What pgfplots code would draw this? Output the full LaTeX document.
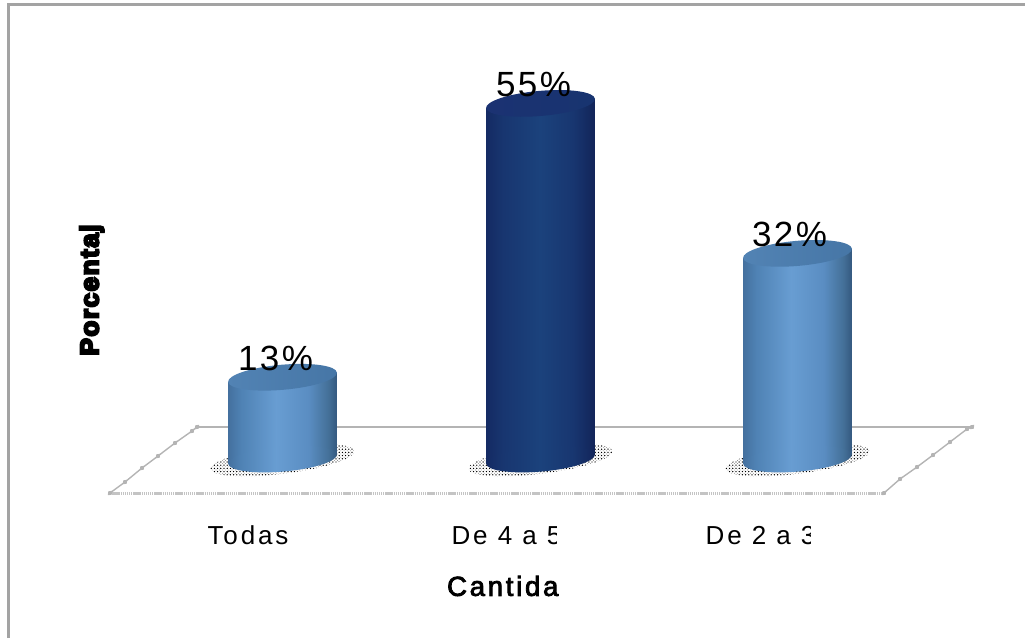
\documentclass[border=0pt]{standalone}
\usepackage{fontspec}
\setmainfont{Liberation Sans}
\newfontfamily\valuefont[LetterSpace=7]{Liberation Sans}
\newfontfamily\tickfont[LetterSpace=11]{Liberation Sans}
\newfontfamily\xlabfont[LetterSpace=10,FakeBold=3]{Liberation Sans}
\newfontfamily\ylabfont[LetterSpace=6,FakeBold=8]{Liberation Sans Bold}
\usepackage{pgfplots}
\pgfplotsset{compat=1.18}
\usetikzlibrary{patterns}

\definecolor{frameline}{HTML}{A3A3A3}
\definecolor{floorline}{HTML}{B4B4B4}
\definecolor{floorfront}{HTML}{C4C4C4}

% Side-wall colours
\definecolor{lA}{HTML}{44709E}
\definecolor{lB}{HTML}{4F82B4}
\definecolor{lC}{HTML}{689DD2}
\definecolor{lD}{HTML}{5A8DC2}
\definecolor{lE}{HTML}{447098}
\definecolor{lF}{HTML}{34587F}
\definecolor{dA}{HTML}{142A63}
\definecolor{dB}{HTML}{183670}
\definecolor{dC}{HTML}{1B427C}
\definecolor{dD}{HTML}{122459}
\definecolor{lcapL}{HTML}{5283B4}
\definecolor{lcapR}{HTML}{4676A6}
\definecolor{dcapL}{HTML}{1B3272}
\definecolor{dcapR}{HTML}{183470}

% Cylinder side shadings (edge - highlight - edge)
\pgfdeclarehorizontalshading{lightbody}{100bp}{
  color(0bp)=(lA); color(25bp)=(lA); color(31bp)=(lB); color(47bp)=(lC);
  color(62bp)=(lD); color(71bp)=(lE); color(75bp)=(lF); color(100bp)=(lF)}
\pgfdeclarehorizontalshading{darkbody}{100bp}{
  color(0bp)=(dA); color(25bp)=(dA); color(33bp)=(dB); color(50bp)=(dC);
  color(65bp)=(dB); color(75bp)=(dD); color(100bp)=(dD)}
\pgfdeclarehorizontalshading{lightcap}{100bp}{
  color(0bp)=(lcapL); color(25bp)=(lcapL); color(75bp)=(lcapR); color(100bp)=(lcapR)}
\pgfdeclarehorizontalshading{darkcap}{100bp}{
  color(0bp)=(dcapL); color(25bp)=(dcapL); color(75bp)=(dcapR); color(100bp)=(dcapR)}

% Contact-shadow speckle
\pgfdeclarepatternformonly{speckles}{\pgfqpoint{-1pt}{-1pt}}{\pgfqpoint{2.5pt}{2.5pt}}{\pgfqpoint{3.2pt}{3.2pt}}{%
  \pgfpathcircle{\pgfqpoint{0pt}{0pt}}{0.72pt}%
  \pgfpathcircle{\pgfqpoint{1.6pt}{1.6pt}}{0.3pt}%
  \pgfusepath{fill}}

% Tilted ellipse used for the end faces of each cylinder
\newcommand{\capellipse}{\pgfpathellipse{\pgfpointorigin}{\pgfqpoint{54.4pt}{4.7pt}}{\pgfqpoint{-1.1pt}{12.5pt}}}
\newcommand{\rimchord}[1]{%
  \pgfpathmoveto{\pgfqpoint{-54.4pt}{-4.7pt}}%
  \pgfpathlineto{\pgfqpoint{54.4pt}{4.7pt}}%
  \pgfpathlineto{\pgfqpoint{54.4pt}{#1}}%
  \pgfpathlineto{\pgfqpoint{-54.4pt}{#1}}%
  \pgfpathclose}
% Upper end: the space above the slanted rim is blanked, then the face is laid on it
\newcommand{\topcap}[1]{%
  \pgfsetfillcolor{white}%
  \pgfpathmoveto{\pgfqpoint{-55.5pt}{-4.7pt}}%
  \pgfpathlineto{\pgfqpoint{55.5pt}{4.7pt}}%
  \pgfpathlineto{\pgfqpoint{55.5pt}{18pt}}%
  \pgfpathlineto{\pgfqpoint{-55.5pt}{18pt}}%
  \pgfpathclose\pgfusepath{fill}%
  \capellipse\pgfshadepath{#1}{0}\pgfusepath{discard}}
% Lower end: a strip of side wall above the slanted rim, then the rounded foot
\newcommand{\basecap}[1]{%
  \pgftransformyshift{3pt}%
  \rimchord{20pt}\pgfshadepath{#1}{0}\pgfusepath{discard}%
  \capellipse\pgfshadepath{#1}{0}\pgfusepath{discard}}
\pgfdeclareplotmark{lighttop}{\topcap{lightcap}}
\pgfdeclareplotmark{darktop}{\topcap{darkcap}}
\pgfdeclareplotmark{lightbase}{\basecap{lightbody}}
\pgfdeclareplotmark{darkbase}{\basecap{darkbody}}
% Speckled shadow on the floor
\pgfdeclareplotmark{speckle}{%
  \pgfpathellipse{\pgfqpoint{0pt}{2pt}}{\pgfqpoint{72pt}{9pt}}{\pgfqpoint{-2pt}{13.5pt}}%
  \pgfsetfillpattern{speckles}{black}\pgfusepath{fill}}

\pgfplotsset{
  page axis/.style={scale only axis,width=1025pt,height=638pt,xmin=0,xmax=1025,clip=false,
    at={(0,0)},anchor=south west},
  percent axis/.style={ymin=-26.99,ymax=70.86},
  cyl body/.style={ybar,bar shift=0pt,bar width=108.8,yshift=8pt,draw=none,shade,shading=#1,mark=none},
  end mark/.style={only marks,mark=#1},
  value label/.style={
    nodes near coords={\pgfmathprintnumber[assume math mode=true]{\pgfplotspointmeta}\%},
    point meta=y,
    nodes near coords style={anchor=center,inner sep=0pt,text=black,
      font=\valuefont\fontsize{35}{35}\selectfont,xshift=#1,yshift=19pt}},
}

\begin{document}
\begin{tikzpicture}[x=1pt,y=1pt]
\path[use as bounding box] (0,0) rectangle (1025,638);

% Frame and floor, in page units measured from the top left
\begin{axis}[page axis,hide axis,ymin=0,ymax=638,y dir=reverse]
  \addplot[frameline,line width=3pt] coordinates {(8.5,638) (8.5,4.5) (1025,4.5)};
  \addplot[floorline,line width=1.8pt] coordinates {(197,427) (972,427)};
  \addplot[floorfront,line width=2.6pt,dash pattern=on 1.4pt off 0.7pt] coordinates {(110,493.5) (884,493.5)};
  \addplot[floorline,line width=1.4pt,mark=diamond*,
    mark options={solid,fill=floorline,draw=floorline,scale=1.0,rotate=-45}]
    coordinates {(110,493) (125,482) (142,468) (158,456) (175,443) (192,431) (197,427)};
  \addplot[floorline,line width=1.4pt,mark=diamond*,
    mark options={solid,fill=floorline,draw=floorline,scale=1.0,rotate=-45}]
    coordinates {(884,493) (900,479) (917,467) (933,455) (950,442) (967,429) (972,427)};
\end{axis}

% Floor shadows beneath the cylinders
\begin{axis}[page axis,percent axis,hide axis]
  \addplot[end mark=speckle] coordinates {(282.5,0)};
  \addplot[end mark=speckle] coordinates {(540.5,0)};
  \addplot[end mark=speckle] coordinates {(797.5,0)};
\end{axis}

% The three cylinders: y is the percentage
\begin{axis}[page axis,percent axis,
  axis line style={draw=none},
  major tick length=0pt,
  ytick=\empty,
  xtick={248,506.5,760.5},
  xticklabels={Todas,De 4 a 5,De 2 a 3},
  xticklabel style={anchor=base,yshift=94pt,inner sep=0pt,
    font=\tickfont\fontsize{26}{26}\selectfont},
  xlabel={Cantida},
  xlabel style={at={(rel axis cs:0.4905,0.0815)},anchor=center,inner sep=0pt,
    font=\xlabfont\fontsize{27.5}{27.5}\selectfont},
  ylabel={Porcentaj},
  ylabel style={at={(rel axis cs:0.0895,0.5455)},anchor=center,rotate=0,inner sep=0pt,
    font=\ylabfont\fontsize{26}{26}\selectfont},
]
  % Todas
  \addplot[cyl body=lightbody] coordinates {(282.5,13)};
  \addplot[end mark=lightbase] coordinates {(282.5,0)};
  \addplot[end mark=lighttop,value label=-7pt] coordinates {(282.5,13)};
  % De 4 a 5
  \addplot[cyl body=darkbody] coordinates {(540.5,55)};
  \addplot[end mark=darkbase] coordinates {(540.5,0)};
  \addplot[end mark=darktop,value label=-7pt] coordinates {(540.5,55)};
  % De 2 a 3
  \addplot[cyl body=lightbody] coordinates {(797.5,32)};
  \addplot[end mark=lightbase] coordinates {(797.5,0)};
  \addplot[end mark=lighttop,value label=-8pt] coordinates {(797.5,32)};
\end{axis}

% The two long tick labels stop short at the right of their slots
\fill[white] (556.5,85) rectangle (580,120);
\fill[white] (810.5,85) rectangle (834,120);
\end{tikzpicture}
\end{document}
